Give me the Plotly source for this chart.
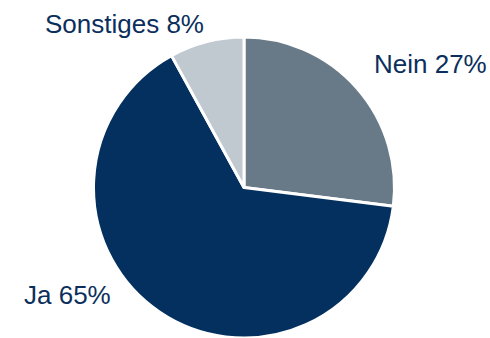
import plotly.graph_objects as go

labels = ["Nein", "Ja", "Sonstiges"]
values = [27, 65, 8]
colors = ["#687A88", "#03305E", "#C0C8D0"]

# label anchor positions in paper coordinates (horizontal centre, vertical middle)
label_x = [430 / 490, 67.5 / 490, 124.5 / 490]
label_y = [1 - 64 / 338, 1 - 295 / 338, 1 - 24 / 338]

TEXT_COLOR = "#0B2F5C"
FONT = "Liberation Sans, Arial, sans-serif"

fig = go.Figure(
    go.Pie(
        labels=labels,
        values=values,
        sort=False,
        direction="clockwise",
        rotation=0,
        marker=dict(colors=colors, line=dict(color="white", width=3)),
        textinfo="none",
        hoverinfo="label+percent",
        domain=dict(x=[93 / 490, 395 / 490], y=[0, 301 / 338]),
    )
)

annotations = []
for lab, val, x, y in zip(labels, values, label_x, label_y):
    annotations.append(
        dict(
            text=f"{lab} {val}%",
            x=x,
            y=y,
            xref="paper",
            yref="paper",
            xanchor="center",
            yanchor="middle",
            showarrow=False,
            borderpad=0,
            font=dict(family=FONT, size=26, color=TEXT_COLOR),
        )
    )

fig.update_layout(
    width=490,
    height=338,
    margin=dict(l=0, r=0, t=0, b=0),
    paper_bgcolor="white",
    plot_bgcolor="white",
    showlegend=False,
    annotations=annotations,
)

fig.write_html("out.html")
